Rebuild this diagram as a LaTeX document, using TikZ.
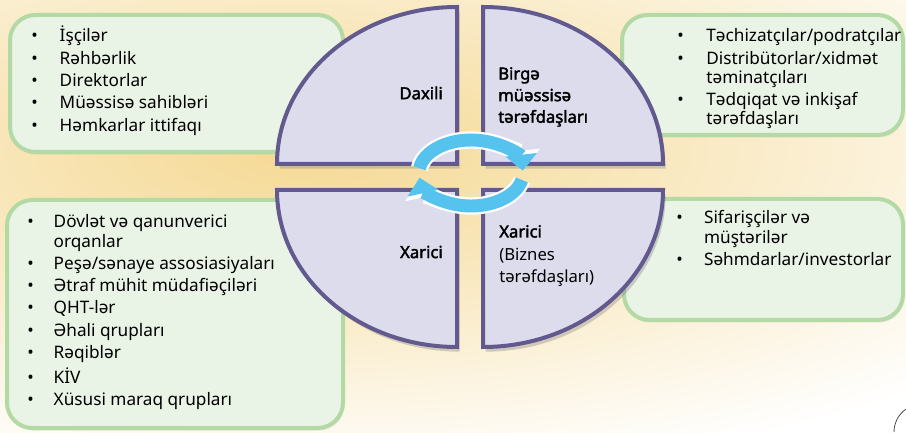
\documentclass[tikz,border=0pt]{standalone}
\usepackage{fontspec}
\setmainfont{Noto Sans}[AutoFakeBold=2.2]
\usetikzlibrary{arrows.meta,shadows}

\definecolor{bgwarm}{HTML}{F5D994}
\definecolor{quadfill}{HTML}{DCDCEC}
\definecolor{quadline}{HTML}{625A8F}
\definecolor{boxfill}{HTML}{E9F3E6}
\definecolor{boxline}{HTML}{B3D9A4}
\definecolor{cycblue}{HTML}{55C3EE}

\begin{document}
\begin{tikzpicture}[x=0.75pt,y=0.75pt,
    quad/.style={draw=quadline,line width=3pt,fill=quadfill,line join=miter,drop shadow={shadow xshift=2pt,shadow yshift=-3.5pt,opacity=.35}},
    listbox/.style={draw=boxline,line width=3pt,fill=boxfill,rounded corners=19pt,drop shadow={shadow xshift=1pt,shadow yshift=-2pt,opacity=.12}},
    items/.style={anchor=base west,inner sep=0pt,font=\fontsize{12.9}{14.4}\selectfont},
    qlabel/.style={inner sep=0pt,align=left,font=\fontsize{12.5}{16.2}\selectfont\bfseries},
    cycback/.style={draw=white,line width=13pt,-{Triangle[length=15pt,width=28pt]}},
    cycarrow/.style={draw=cycblue,line width=9.7pt,-{Triangle[length=12pt,width=23pt]}}
  ]
    \useasboundingbox (0,0) rectangle (906,432);

    % background
    \begin{scope}
      \clip (0,0) rectangle (906,432);
      \fill[white] (0,0) rectangle (906,432);
      \shade[inner color=bgwarm,outer color=white] (300,280) ellipse [x radius=900,y radius=330];
    \end{scope}

    % list boxes
    \path[listbox] (10,417) rectangle (343,280);
    \path[listbox] (622,417) rectangle (903,297);
    \path[listbox] (7,232) rectangle (343,4);
    \path[listbox] (624,233) rectangle (903,112);

    % four quarters
    \path[quad] (457,268) -- ++(-180,0) arc[start angle=180,end angle=90,x radius=180,y radius=157] -- cycle;
    \path[quad] (483,268) -- ++(0,157) arc[start angle=90,end angle=0,x radius=180,y radius=157] -- cycle;
    \path[quad] (457,242) -- ++(-180,0) arc[start angle=180,end angle=270,x radius=180,y radius=157] -- cycle;
    \path[quad] (483,242) -- ++(180,0) arc[start angle=0,end angle=-90,x radius=180,y radius=157] -- cycle;

    % quarter labels
    \node[qlabel,anchor=east] (dax) at (443,339) {Daxili};
    \node[qlabel,anchor=west] (birge) at (498,335) {Birgə\\müəssisə\\tərəfdaşları};
    \node[qlabel,anchor=east] (xar) at (443,180) {Xarici};
    \node[qlabel,anchor=west,font=\fontsize{12.5}{17}\selectfont] (biz) at (499,176) {\textbf{Xarici}\\(Biznes\\tərəfdaşları)};

    % cycle arrows
    \draw[cycback] (471,259) ++(172:52 and 33) arc[start angle=172,end angle=4,x radius=52,y radius=33];
    \draw[cycarrow] (471,259) ++(172:52 and 33) arc[start angle=172,end angle=4,x radius=52,y radius=33];
    \draw[cycback] (471,259) ++(348:52 and 33) arc[start angle=348,end angle=188,x radius=52,y radius=33];
    \draw[cycarrow] (471,259) ++(348:52 and 33) arc[start angle=348,end angle=188,x radius=52,y radius=33];

    % stakeholder lists
    \node[items] (l1) at (31,390) {\begin{tabular}[t]{@{}l@{\hspace{16.5pt}}l@{}}
      \textbullet & İşçilər\\[2.3pt]
      \textbullet & Rəhbərlik\\[2.3pt]
      \textbullet & Direktorlar\\[2.3pt]
      \textbullet & Müəssisə sahibləri\\[2.3pt]
      \textbullet & Həmkarlar ittifaqı
    \end{tabular}};
    \node[items] (l2) at (677,390) {\begin{tabular}[t]{@{}l@{\hspace{17pt}}l@{}}
      \textbullet & Təchizatçılar/podratçılar\\[2.3pt]
      \textbullet & Distribütorlar/xidmət\\
                  & təminatçıları\\[2.3pt]
      \textbullet & Tədqiqat və inkişaf\\
                  & tərəfdaşları
    \end{tabular}};
    \node[items] (l3) at (27,204) {\begin{tabular}[t]{@{}l@{\hspace{15pt}}l@{}}
      \textbullet & Dövlət və qanunverici\\
                  & orqanlar\\[2.3pt]
      \textbullet & Peşə/sənaye assosiasiyaları\\[2.3pt]
      \textbullet & Ətraf mühit müdafiəçiləri\\[2.3pt]
      \textbullet & QHT-lər\\[2.3pt]
      \textbullet & Əhali qrupları\\[2.3pt]
      \textbullet & Rəqiblər\\[2.3pt]
      \textbullet & KİV\\[2.3pt]
      \textbullet & Xüsusi maraq qrupları
    \end{tabular}};
    \node[items] (l4) at (676,208) {\begin{tabular}[t]{@{}l@{\hspace{16pt}}l@{}}
      \textbullet & Sifarişçilər və\\
                  & müştərilər\\[2.3pt]
      \textbullet & Səhmdarlar/investorlar
    \end{tabular}};

    % corner mark
    \draw[black!70,line width=0.6pt] (922,0) ++(180:28) arc[start angle=180,end angle=125,radius=28];
  \end{tikzpicture}
\end{document}
